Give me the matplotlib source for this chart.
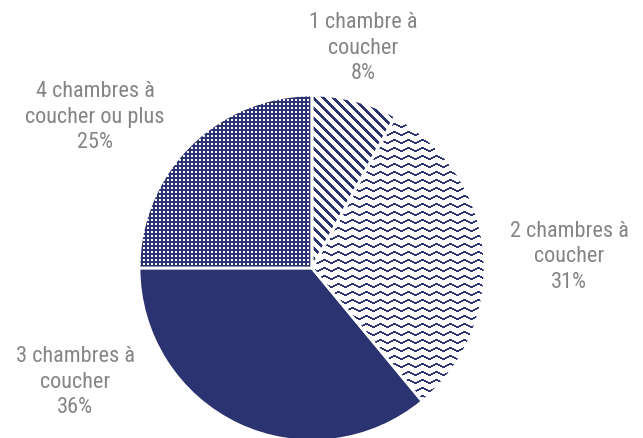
import numpy as np
import matplotlib
matplotlib.use('Agg')
import matplotlib.pyplot as plt
from matplotlib.colors import ListedColormap

categories = ['1 chambre à\ncoucher', '2 chambres à\ncoucher',
              '3 chambres à\ncoucher', '4 chambres à\ncoucher ou plus']
shares = [8, 31, 36, 25]
patterns = ['stripes', 'waves', 'solid', 'dots']

navy = '#2b3470'
grey = '#858585'
plt.rcParams['font.family'] = ['Roboto Condensed', 'Liberation Sans', 'DejaVu Sans']

W, H = 643, 438
fig = plt.figure(figsize=(W/100, H/100), dpi=100)
ax = fig.add_axes([0, 0, 1, 1])
ax.axis('off')

cx, cy, R = 312, H - 268, 173

wedges, _ = ax.pie(shares, center=(cx, cy), radius=R, startangle=90,
                   counterclock=False, colors=[navy]*4,
                   wedgeprops=dict(edgecolor='white', linewidth=2))


def pattern_image(kind, n):
    # pixel grid, row 0 at the top of the image
    yy, xx = np.mgrid[0:n, 0:n]
    if kind == 'stripes':
        return ((xx - yy) % 10) < 4
    if kind == 'waves':
        tri = np.abs((xx % 14) - 7) * 3 / 7.0
        return ((yy - np.round(tri)) % 8) < 2
    if kind == 'dots':
        return ~(((xx % 4) < 2) & ((yy % 4) < 2))
    return np.ones((n, n), bool)


n = 2 * R + 8
x0, y0 = cx - R - 4, cy - R - 4
cmap = ListedColormap(['white', navy])
for w, kind in zip(wedges, patterns):
    if kind == 'solid':
        continue
    img = pattern_image(kind, n).astype(float)
    w.set_facecolor('none')
    w.set_zorder(3)
    im = ax.imshow(img, cmap=cmap, vmin=0, vmax=1, interpolation='nearest',
                   extent=(x0, x0 + n, y0, y0 + n), origin='upper', zorder=1)
    im.set_clip_path(w)

ax.set_xlim(0, W)
ax.set_ylim(0, H)
ax.set_aspect('auto')

label_pos = [(363, 48), (569, 257), (75, 382), (95, 117)]
for cat, v, (lx, ly) in zip(categories, shares, label_pos):
    ax.text(lx, H - ly, f'{cat}\n{v}%', ha='center', va='center',
            color=grey, fontsize=16, linespacing=1.3)

fig.savefig('out.png', dpi=100)
